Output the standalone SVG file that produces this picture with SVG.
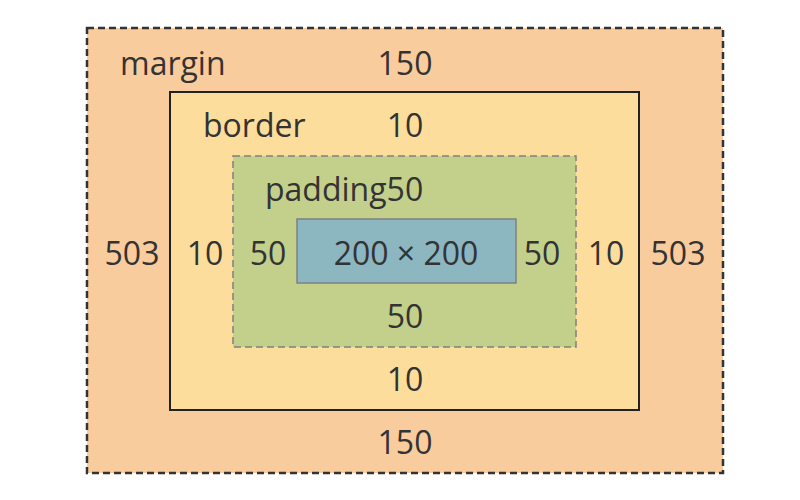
<svg xmlns="http://www.w3.org/2000/svg" width="800" height="500" viewBox="0 0 800 500">
<style>
text{font-family:"Open Sans","Noto Sans",sans-serif;font-size:32px;fill:#333}
.c{text-anchor:middle}
</style>
<rect width="800" height="500" fill="#fff"/>
<g id="margin">
<rect x="87" y="28" width="636" height="445" fill="#f9cc9d" stroke="#333" stroke-width="2.5" stroke-dasharray="7 4"/>
<text x="120" y="75">margin</text>
<text class="c" x="405" y="75">150</text>
<text class="c" x="132" y="265">503</text>
<text class="c" x="678" y="265">503</text>
<text class="c" x="405" y="454">150</text>
</g>
<g id="border">
<rect x="170" y="92" width="469" height="318" fill="#fddd9b" stroke="#222" stroke-width="2"/>
<text x="203" y="137">border</text>
<text class="c" x="405" y="137">10</text>
<text class="c" x="205" y="265">10</text>
<text class="c" x="606" y="265">10</text>
<text class="c" x="405" y="391">10</text>
</g>
<g id="padding">
<rect x="233" y="156" width="343" height="191" fill="#c3d08b" stroke="#808080" stroke-width="1.5" stroke-dasharray="7 4"/>
<text x="265" y="201">padding50</text>
<text class="c" x="268" y="265">50</text>
<text class="c" x="542" y="265">50</text>
<text class="c" x="405" y="328">50</text>
</g>
<g id="content">
<rect x="297" y="219" width="219" height="64" fill="#8cb6c0" stroke="#808080" stroke-width="1.5"/>
<text class="c" x="406" y="265">200 × 200</text>
</g>
</svg>
